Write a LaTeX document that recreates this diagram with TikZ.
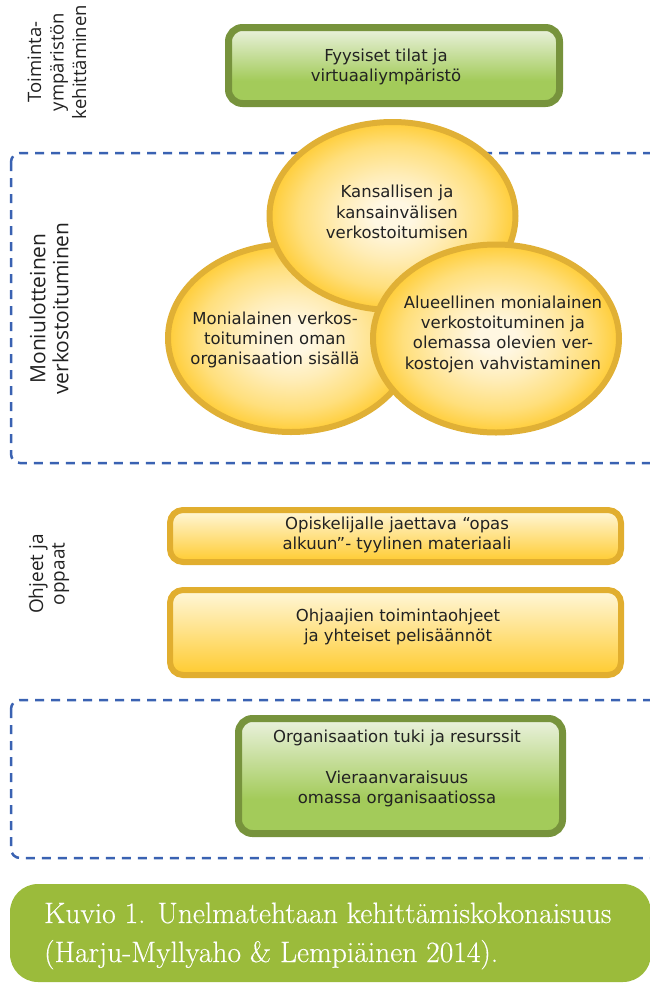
\documentclass[tikz,border=0pt]{standalone}
\usepackage{fontspec}
\newfontfamily\boxfont{DejaVu Sans}
\newfontfamily\labfont{Open Sans}
\newfontfamily\capfont[FakeBold=0.35]{Latin Modern Roman}
\usetikzlibrary{shapes.geometric}
\definecolor{gstroke}{HTML}{77933C}
\definecolor{gtop}{HTML}{EBF2DF}
\definecolor{gbot}{HTML}{A3CB5A}
\definecolor{ystroke}{HTML}{E1AE2F}
\definecolor{ytop}{HTML}{FFF7DA}
\definecolor{ybot}{HTML}{FFCB2F}
\definecolor{ecen}{HTML}{FFF7E2}
\definecolor{emid}{HTML}{FFEDB8}
\definecolor{emid2}{HTML}{FFDF7C}
\definecolor{eout}{HTML}{FFCD38}
\definecolor{estroke}{HTML}{E0B035}
\definecolor{dblue}{HTML}{3A62B2}
\definecolor{capgreen}{HTML}{9BBB3B}
\definecolor{txt}{HTML}{222222}
\pgfdeclareverticalshading{greensh}{100bp}{color(0bp)=(gbot); color(25bp)=(gbot); color(40bp)=(gbot); color(75bp)=(gtop); color(100bp)=(gtop)}
\pgfdeclareverticalshading{yellowsh}{100bp}{color(0bp)=(ybot); color(25bp)=(ybot); color(75bp)=(ytop); color(100bp)=(ytop)}
\pgfdeclareradialshading{ellsh}{\pgfpoint{0bp}{0bp}}{color(0bp)=(ecen); color(4bp)=(ecen); color(11bp)=(emid); color(19bp)=(emid2); color(25bp)=(eout); color(50bp)=(eout)}
\tikzset{
  gbox/.style={draw=gstroke, line width=7pt, rounded corners=14pt, shade, shading=greensh, inner sep=0pt},
  ybox/.style={draw=ystroke, line width=6pt, rounded corners=13pt, shade, shading=yellowsh, inner sep=0pt},
  ell/.style={ellipse, draw=estroke, line width=6pt, shade, shading=ellsh, inner sep=0pt, minimum width=246pt, minimum height=188pt},
  btext/.style={font=\boxfont\fontsize{16.5}{20.3}\selectfont, text=txt, align=center, inner sep=0pt},
  vlabel/.style={rotate=90, align=center, text=txt, inner sep=0pt},
  dashbox/.style={draw=dblue, line width=2.5pt, dash pattern=on 9pt off 7pt, rounded corners=9pt},
  captext/.style={font=\capfont\fontsize{29.5}{38}\selectfont, text=white, inner sep=0pt, anchor=base west},
}
\begin{document}
\begin{tikzpicture}[x=1pt,y=-1pt]
\useasboundingbox (0,0) rectangle (650,983);
\clip (0,0) rectangle (650,983);
% top box
\node[gbox, minimum width=331pt, minimum height=76pt] (fysbox) at (394,65.5) {};
\node[btext] (fystxt) at (386,67) {Fyysiset tilat ja\\virtuaaliympäristö};
% left labels
\node[vlabel, font=\labfont\fontsize{18.5}{22.5}\selectfont] (lab1) at (57,62) {Toiminta-\\ympäristön\\kehittäminen};
\node[vlabel, font=\labfont\fontsize{21}{23}\selectfont] (lab2) at (49,308.5) {Moniulotteinen\\verkostoituminen};
\node[vlabel, font=\labfont\fontsize{19}{21.5}\selectfont] (lab3) at (49,574) {Ohjeet ja\\oppaat};
% dashed frames
\draw[dashbox] (11,153) rectangle (680,463);
\draw[dashbox] (11,700) rectangle (680,858);
% ellipses
\node[ell] (e1) at (291,338) {};
\node[ell] (e2) at (392.5,216) {};
\node[ell] (e3) at (496,338.5) {};
\node[btext] (e2txt) at (397,212) {Kansallisen ja\\kansainvälisen\\verkostoitumisen};
\node[btext] (e1txt) at (275,340) {Monialainen verkos-\\toituminen oman\\organisaation sisällä};
\node[btext] (e3txt) at (503,334) {Alueellinen monialainen\\verkostoituminen ja\\olemassa olevien ver-\\kostojen vahvistaminen};
% yellow boxes
\node[ybox, minimum width=451pt, minimum height=52pt] (opasbox) at (395.5,536) {};
\node[btext] (opastxt) at (397,535) {Opiskelijalle jaettava “opas\\alkuun”- tyylinen materiaali};
\node[ybox, minimum width=451pt, minimum height=85pt] (ohjbox) at (395.5,632.5) {};
\node[btext] (ohjtxt) at (398,627) {Ohjaajien toimintaohjeet\\ja yhteiset pelisäännöt};
% bottom green box
\node[gbox, minimum width=324pt, minimum height=115pt] (orgbox) at (400.5,776) {};
\node[btext] (orgtxt) at (397,768.5) {Organisaation tuki ja resurssit\\[20.3pt]Vieraanvaraisuus\\omassa organisaatiossa};
% caption
\fill[capgreen, rounded corners=28pt] (10,884) rectangle (651,982);
\node[captext] (cap1) at (44,923) {Kuvio 1. Unelmatehtaan kehittämiskokonaisuus};
\node[captext] (cap2) at (44,962) {(Harju-Myllyaho \& Lempiäinen 2014).};
\end{tikzpicture}
\end{document}
